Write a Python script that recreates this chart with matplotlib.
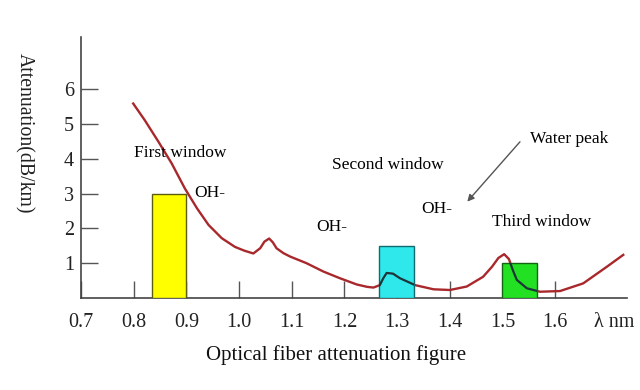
import matplotlib.pyplot as plt

# attenuation curve (wavelength in um, dB/km)
wavelength = [0.799, 0.821, 0.847, 0.872, 0.897, 0.920, 0.942, 0.967, 0.992,
              1.010, 1.027, 1.040, 1.048, 1.057, 1.064, 1.071, 1.084, 1.097,
              1.128, 1.160, 1.191, 1.223, 1.243, 1.255, 1.267, 1.274, 1.280,
              1.292, 1.305, 1.334, 1.369, 1.400, 1.432, 1.463, 1.480, 1.492,
              1.503, 1.512, 1.520, 1.527, 1.546, 1.571, 1.609, 1.653, 1.698,
              1.729]
attenuation = [5.59, 5.11, 4.49, 3.87, 3.15, 2.58, 2.10, 1.72, 1.47,
               1.36, 1.28, 1.43, 1.62, 1.71, 1.60, 1.43, 1.29, 1.19,
               1.00, 0.76, 0.57, 0.39, 0.32, 0.30, 0.37, 0.58, 0.72,
               0.70, 0.57, 0.37, 0.25, 0.23, 0.33, 0.61, 0.90, 1.15,
               1.26, 1.12, 0.78, 0.52, 0.28, 0.18, 0.20, 0.42, 0.90,
               1.24]

# transmission windows
win_start = [0.835, 1.266, 1.498]
win_stop = [0.900, 1.332, 1.565]
win_level = [3.0, 1.5, 1.0]
win_colors = ['#ffff00', '#2ee8ec', '#22e022']
win_edges = ['#5c5c10', '#106a70', '#146414']

xticks = [0.7, 0.8, 0.9, 1.0, 1.1, 1.2, 1.3, 1.4, 1.5, 1.6]
yticks = [1, 2, 3, 4, 5, 6]

plt.rcParams['font.family'] = ['Liberation Serif', 'DejaVu Serif']

fig = plt.figure(figsize=(6.4, 3.9), dpi=100)
ax = fig.add_axes([0.1266, 0.2359, 0.853, 0.669])

curve_color = '#a8282c'
ax.plot(wavelength, attenuation, color=curve_color, lw=1.7, zorder=2,
        solid_joinstyle='round')

for s, e, h, c, ec in zip(win_start, win_stop, win_level, win_colors, win_edges):
    bars = ax.bar(s, h, width=e - s, align='edge', color=c, edgecolor=ec,
                  linewidth=1.0, zorder=3)
    # curve shows through the boxes as a dark line
    inner, = ax.plot(wavelength, attenuation, color='#1e3438', lw=1.6, zorder=4)
    inner.set_clip_path(bars[0])

ax.set_xlim(0.7, 1.736)
ax.set_ylim(0, 7.5)
ax.set_xticks(xticks)
ax.set_xticklabels([f'{t:.1f}' for t in xticks])
ax.set_yticks(yticks)
ax.tick_params(axis='both', direction='in', length=12, width=1.0,
               color='#555555', labelsize=14.5, labelcolor='#222222')
ax.tick_params(axis='x', pad=11)
ax.tick_params(axis='y', pad=5)
for side in ['top', 'right']:
    ax.spines[side].set_visible(False)
for side in ['left', 'bottom']:
    ax.spines[side].set_color('#444444')
    ax.spines[side].set_linewidth(1.2)

# unit label sits in the tick label row
ax.text(1.712, -11 * 100 / 72 / 261, 'λ nm', ha='center', va='top',
        fontsize=14.5, color='#222222', transform=ax.get_xaxis_transform())

fs = 12.5
ax.text(0.888, 4.17, 'First window', ha='center', va='center', fontsize=fs)
ax.text(0.914, 3.02, 'OH-', ha='left', va='center', fontsize=fs)
ax.text(1.147, 2.05, 'OH-', ha='left', va='center', fontsize=fs)
ax.text(1.283, 3.82, 'Second window', ha='center', va='center', fontsize=fs)
ax.text(1.346, 2.55, 'OH-', ha='left', va='center', fontsize=fs)
ax.text(1.574, 2.19, 'Third window', ha='center', va='center', fontsize=fs)
ax.text(1.627, 4.56, 'Water peak', ha='center', va='center', fontsize=fs)

ax.annotate('', xy=(1.433, 2.77), xytext=(1.533, 4.49),
            arrowprops=dict(arrowstyle='-|>', color='#555555', lw=1.0,
                            mutation_scale=10, shrinkA=0, shrinkB=0))

fig.text(24 / 640, 1 - 133 / 390, 'Attenuation(dB/km)', rotation=-90,
         ha='center', va='center', fontsize=14.2, color='#222222')
fig.text(336 / 640, 1 - 355 / 390, 'Optical fiber attenuation figure',
         ha='center', va='center', fontsize=15, color='#111111')

fig.savefig('out.png', dpi=100)
